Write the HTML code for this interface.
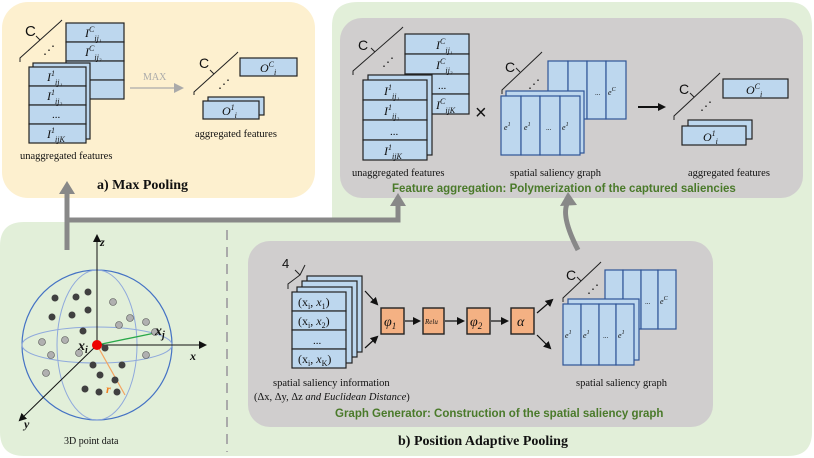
<!DOCTYPE html>
<html><head><meta charset="utf-8"><style>
body{margin:0;background:#fff}
svg{display:block}
text{font-family:"Liberation Serif",serif;fill:#111}
text.s{font-family:"Liberation Sans",sans-serif}
.it{font-style:italic}
.c{fill:#bdd7ee;stroke:#222;stroke-width:1.2}
.cb{fill:#bdd7ee;stroke:#2f5597;stroke-width:1.2}
.o{fill:#f4b183;stroke:#222;stroke-width:1.4}
.g{font-family:"Liberation Sans",sans-serif;font-weight:bold;fill:#4a7a2a;font-size:11.5px}
.br{fill:none;stroke:#222;stroke-width:1}
</style></head><body>
<svg width="814" height="458" viewBox="0 0 814 458">
<defs>
<marker id="ah" markerWidth="8" markerHeight="8" refX="6" refY="4" orient="auto" markerUnits="userSpaceOnUse"><path d="M0,0 L8,4 L0,8 z" fill="#111"/></marker>
<marker id="ag" markerWidth="10" markerHeight="10" refX="6" refY="5" orient="auto" markerUnits="userSpaceOnUse"><path d="M0,0 L10,5 L0,10 z" fill="#aaa"/></marker>
</defs>
<rect x="2" y="2" width="313" height="196" rx="26" fill="#fdf0cf"/>
<path d="M358,2 H788 Q812,2 812,26 V432 Q812,456 788,456 H24 Q0,456 0,432 V246 Q0,222 24,222 H332 V26 Q332,2 358,2 Z" fill="#e2efd9"/>
<rect x="340" y="18" width="463" height="180" rx="22" fill="#d0cece"/>
<rect x="248" y="241" width="465" height="186" rx="22" fill="#d0cece"/>
<line x1="227" y1="230" x2="227" y2="452" stroke="#aaa" stroke-width="2" stroke-dasharray="10,7"/>

<g stroke="#888" stroke-width="5" fill="none">
<path d="M67,250 V192"/><path d="M67,220 H398 V204"/>
<path d="M578,250 Q560,215 568,202"/>
</g>
<path d="M59,194 L67,181 L75,194 Z" fill="#888"/>
<path d="M390,206 L398,193 L406,206 Z" fill="#888"/>
<path d="M560,206 L568,192 L577,205 Z" fill="#888"/>

<!-- a) max pooling -->
<path class="br" d="M20,62 L20,58 L60,22 L62,20 M40,40 L36,36"/><text x="25" y="36" font-size="15" class="s">C</text>
<text x="43" y="54" font-size="12">⋰</text>
<g>
<rect class="c" x="66" y="23" width="58" height="19"/><rect class="c" x="66" y="42" width="58" height="19"/><rect class="c" x="66" y="61" width="58" height="19"/><rect class="c" x="66" y="80" width="58" height="19"/>
<text x="85" y="37" font-size="12" class="it">I<tspan font-size="8" dy="-5">C</tspan><tspan font-size="8" dy="9">ij₁</tspan></text>
<text x="85" y="56" font-size="12" class="it">I<tspan font-size="8" dy="-5">C</tspan><tspan font-size="8" dy="9">ij₂</tspan></text>
<rect class="c" x="33" y="63" width="57" height="76"/>
<rect class="c" x="29" y="67" width="57" height="19"/><rect class="c" x="29" y="86" width="57" height="19"/><rect class="c" x="29" y="105" width="57" height="19"/><rect class="c" x="29" y="124" width="57" height="19"/>
<text x="47" y="81" font-size="12" class="it">I<tspan font-size="8" dy="-5">1</tspan><tspan font-size="8" dy="9">ij₁</tspan></text>
<text x="47" y="100" font-size="12" class="it">I<tspan font-size="8" dy="-5">1</tspan><tspan font-size="8" dy="9">ij₂</tspan></text>
<text x="52" y="118" font-size="11">...</text>
<text x="47" y="138" font-size="12" class="it">I<tspan font-size="8" dy="-5">1</tspan><tspan font-size="8" dy="9">ijK</tspan></text>
</g>
<text x="20" y="159" font-size="10.5">unaggregated features</text>
<line x1="130" y1="88" x2="180" y2="88" stroke="#aaa" stroke-width="1.2" marker-end="url(#ag)"/>
<text x="143" y="80" font-size="10" style="fill:#aaa">MAX</text>
<path class="br" d="M194,95 L194,92 L236,54 L238,52 M214,74 L210,70"/><text x="199" y="68" font-size="14" class="s">C</text>
<text x="218" y="88" font-size="12">⋰</text>
<rect class="c" x="240" y="58" width="57" height="18"/><text x="260" y="72" font-size="12" class="it">O<tspan font-size="8" dy="-5">C</tspan><tspan font-size="8" dy="8">i</tspan></text>
<rect class="c" x="208" y="97" width="56" height="18"/><rect class="c" x="203" y="101" width="56" height="18"/>
<text x="222" y="115" font-size="12" class="it">O<tspan font-size="8" dy="-5">1</tspan><tspan font-size="8" dy="8">i</tspan></text>
<text x="195" y="137" font-size="10.5">aggregated features</text>
<text x="97" y="189" font-size="14" font-weight="bold">a) Max Pooling</text>

<!-- top gray -->
<path class="br" d="M353,75 L353,71 L401,29 L403,27 M375,52 L371,48"/><text x="358" y="50" font-size="14" class="s">C</text>
<text x="382" y="66" font-size="12">⋰</text>
<rect class="c" x="405" y="34" width="64" height="20"/><rect class="c" x="405" y="54" width="64" height="20"/><rect class="c" x="405" y="74" width="64" height="20"/><rect class="c" x="405" y="94" width="64" height="20"/>
<text x="436" y="49" font-size="12" class="it">I<tspan font-size="8" dy="-5">C</tspan><tspan font-size="8" dy="9">ij₁</tspan></text>
<text x="436" y="69" font-size="12" class="it">I<tspan font-size="8" dy="-5">C</tspan><tspan font-size="8" dy="9">ij₂</tspan></text>
<text x="438" y="89" font-size="11">...</text>
<text x="436" y="109" font-size="12" class="it">I<tspan font-size="8" dy="-5">C</tspan><tspan font-size="8" dy="9">ijK</tspan></text>
<rect class="c" x="368" y="75" width="64" height="80"/>
<rect class="c" x="363" y="80" width="64" height="20"/><rect class="c" x="363" y="100" width="64" height="20"/><rect class="c" x="363" y="120" width="64" height="20"/><rect class="c" x="363" y="140" width="64" height="20"/>
<text x="384" y="95" font-size="12" class="it">I<tspan font-size="8" dy="-5">1</tspan><tspan font-size="8" dy="9">ij₁</tspan></text>
<text x="384" y="115" font-size="12" class="it">I<tspan font-size="8" dy="-5">1</tspan><tspan font-size="8" dy="9">ij₂</tspan></text>
<text x="390" y="135" font-size="11">...</text>
<text x="384" y="155" font-size="12" class="it">I<tspan font-size="8" dy="-5">1</tspan><tspan font-size="8" dy="9">ijK</tspan></text>
<text x="352" y="176" font-size="10.5">unaggregated features</text>
<text x="475" y="119" font-size="20" class="s">×</text>
<path class="br" d="M502,94 L502,90 L540,54 L542,52 M520,72 L516,68"/><text x="505" y="72" font-size="14" class="s">C</text>
<text x="528" y="88" font-size="12">⋰</text>
<g>
<rect class="cb" x="548" y="61" width="20" height="58"/><rect class="cb" x="568" y="61" width="19" height="58"/><rect class="cb" x="587" y="61" width="19" height="58"/><rect class="cb" x="606" y="61" width="20" height="58"/>
<text x="595" y="95" font-size="7">...</text><text x="608" y="95" font-size="8" class="it">e<tspan font-size="6" dy="-4">C</tspan></text>
<rect class="cb" x="506" y="91" width="78" height="62"/>
<rect class="cb" x="501" y="96" width="20" height="59"/><rect class="cb" x="521" y="96" width="19" height="59"/><rect class="cb" x="540" y="96" width="20" height="59"/><rect class="cb" x="560" y="96" width="20" height="59"/>
<text x="504" y="130" font-size="8" class="it">e<tspan font-size="6" dy="-4">1</tspan></text><text x="524" y="130" font-size="8" class="it">e<tspan font-size="6" dy="-4">1</tspan></text><text x="546" y="130" font-size="7">...</text><text x="562" y="130" font-size="8" class="it">e<tspan font-size="6" dy="-4">1</tspan></text>
</g>
<text x="510" y="176" font-size="10.5">spatial  saliency graph</text>
<line x1="638" y1="107" x2="664" y2="107" stroke="#111" stroke-width="2" marker-end="url(#ah)"/>
<path class="br" d="M674,120 L674,116 L718,75 L720,73 M694,97 L690,93"/><text x="679" y="94" font-size="14" class="s">C</text>
<text x="700" y="110" font-size="12">⋰</text>
<rect class="c" x="723" y="79" width="65" height="19"/><text x="746" y="94" font-size="12" class="it">O<tspan font-size="8" dy="-5">C</tspan><tspan font-size="8" dy="8">i</tspan></text>
<rect class="c" x="688" y="120" width="64" height="19"/><rect class="c" x="682" y="126" width="64" height="19"/>
<text x="703" y="141" font-size="12" class="it">O<tspan font-size="8" dy="-5">1</tspan><tspan font-size="8" dy="8">i</tspan></text>
<text x="688" y="176" font-size="10.5">aggregated features</text>
<text x="392" y="192" class="g">Feature aggregation: Polymerization of the captured saliencies</text>

<!-- 3D point data -->
<g fill="none">
<circle cx="97" cy="345" r="75" stroke="#4472c4" stroke-width="1.2"/>
<ellipse cx="97" cy="345" rx="75" ry="18" stroke="#8fa9dc" stroke-width="1"/>
<ellipse cx="97" cy="345" rx="40" ry="75" stroke="#8fa9dc" stroke-width="1"/>
</g>
<g stroke="#111" stroke-width="1">
<line x1="97" y1="345" x2="97" y2="236" marker-end="url(#ah)"/>
<line x1="97" y1="345" x2="205" y2="345" marker-end="url(#ah)"/>
<line x1="97" y1="345" x2="20" y2="420" marker-end="url(#ah)"/>
</g>
<line x1="97" y1="345" x2="155" y2="333" stroke="#2aa84a" stroke-width="1.3"/>
<line x1="97" y1="345" x2="125" y2="395" stroke="#f4a460" stroke-width="1.2"/>
<g fill="#404040">
<circle cx="55" cy="298" r="3.5"/><circle cx="76" cy="297" r="3.5"/><circle cx="88" cy="292" r="3.5"/><circle cx="52" cy="317" r="3.5"/><circle cx="72" cy="315" r="3.5"/><circle cx="88" cy="310" r="3.5"/><circle cx="83" cy="331" r="3.5"/><circle cx="105" cy="348" r="3.5"/><circle cx="93" cy="365" r="3.5"/><circle cx="122" cy="365" r="3.5"/><circle cx="100" cy="375" r="3.5"/><circle cx="115" cy="380" r="3.5"/><circle cx="85" cy="389" r="3.5"/><circle cx="99" cy="392" r="3.5"/><circle cx="117" cy="392" r="3.5"/>
</g>
<g fill="#b0b0b0" stroke="#555" stroke-width="0.6">
<circle cx="113" cy="302" r="3.5"/><circle cx="130" cy="318" r="3.5"/><circle cx="119" cy="325" r="3.5"/><circle cx="146" cy="322" r="3.5"/><circle cx="155" cy="332" r="3.5"/><circle cx="42" cy="342" r="3.5"/><circle cx="65" cy="340" r="3.5"/><circle cx="51" cy="355" r="3.5"/><circle cx="79" cy="353" r="3.5"/><circle cx="146" cy="355" r="3.5"/><circle cx="46" cy="373" r="3.5"/>
</g>
<circle cx="97" cy="345" r="5" fill="#e00"/>
<text x="100" y="246" font-size="12" class="it" font-weight="bold">z</text>
<text x="190" y="360" font-size="12" class="it" font-weight="bold">x</text>
<text x="24" y="428" font-size="12" class="it" font-weight="bold">y</text>
<text x="155" y="335" font-size="14" class="it" font-weight="bold">x<tspan font-size="10" dy="3">j</tspan></text>
<text x="78" y="350" font-size="14" class="it" font-weight="bold">x<tspan font-size="10" dy="3">i</tspan></text>
<text x="106" y="393" font-size="12" class="it" font-weight="bold" style="fill:#f08020">r</text>
<text x="64" y="444" font-size="10">3D point data</text>

<!-- bottom gray -->
<path class="br" d="M288,289 L288,284 L300,275 L295,270 M300,275 L305,265"/><text x="282" y="268" font-size="13" class="s">4</text>
<rect class="c" x="307" y="276" width="55" height="76"/><rect class="c" x="302" y="281" width="55" height="76"/><rect class="c" x="297" y="287" width="55" height="76"/>
<rect class="c" x="292" y="292" width="54" height="19"/><rect class="c" x="292" y="311" width="54" height="19"/><rect class="c" x="292" y="330" width="54" height="19"/><rect class="c" x="292" y="349" width="54" height="19"/>
<text x="298" y="306" font-size="12">(x<tspan font-size="8" dy="3">i</tspan><tspan dy="-3">, </tspan><tspan class="it">x</tspan><tspan font-size="8" dy="3">1</tspan><tspan dy="-3">)</tspan></text>
<text x="298" y="325" font-size="12">(x<tspan font-size="8" dy="3">i</tspan><tspan dy="-3">, </tspan><tspan class="it">x</tspan><tspan font-size="8" dy="3">2</tspan><tspan dy="-3">)</tspan></text>
<text x="313" y="344" font-size="11">...</text>
<text x="298" y="363" font-size="12">(x<tspan font-size="8" dy="3">i</tspan><tspan dy="-3">, </tspan><tspan class="it">x</tspan><tspan font-size="8" dy="3">K</tspan><tspan dy="-3">)</tspan></text>
<text x="273" y="386" font-size="10.5">spatial  saliency information</text>
<text x="254" y="400" font-size="10.5">(Δx, Δy, Δz <tspan class="it">and Euclidean Distance</tspan>)</text>
<g stroke="#111" stroke-width="1.2">
<line x1="365" y1="291" x2="377" y2="304" marker-end="url(#ah)"/>
<line x1="365" y1="348" x2="377" y2="337" marker-end="url(#ah)"/>
<line x1="405" y1="321" x2="419" y2="321" marker-end="url(#ah)"/>
<line x1="445" y1="321" x2="463" y2="321" marker-end="url(#ah)"/>
<line x1="491" y1="321" x2="507" y2="321" marker-end="url(#ah)"/>
<line x1="537" y1="313" x2="552" y2="300" marker-end="url(#ah)"/>
<line x1="537" y1="335" x2="550" y2="348" marker-end="url(#ah)"/>
</g>
<rect class="o" x="381" y="308" width="23" height="26"/><text x="384" y="326" font-size="14" class="it">φ<tspan font-size="9" dy="3">1</tspan></text>
<rect class="o" x="423" y="308" width="21" height="26"/><text x="425" y="324" font-size="7" class="it">Relu</text>
<rect class="o" x="467" y="308" width="23" height="26"/><text x="470" y="326" font-size="14" class="it">φ<tspan font-size="9" dy="3">2</tspan></text>
<rect class="o" x="511" y="308" width="23" height="26"/><text x="517" y="326" font-size="14" class="it">α</text>
<path class="br" d="M563,302 L563,298 L599,264 L601,262 M581,281 L577,277"/><text x="566" y="280" font-size="14" class="s">C</text>
<text x="587" y="293" font-size="12">⋰</text>
<rect class="cb" x="605" y="270" width="18" height="59"/><rect class="cb" x="623" y="270" width="18" height="59"/><rect class="cb" x="641" y="270" width="17" height="59"/><rect class="cb" x="658" y="270" width="18" height="59"/>
<text x="645" y="304" font-size="7">...</text><text x="660" y="304" font-size="8" class="it">e<tspan font-size="6" dy="-4">C</tspan></text>
<rect class="cb" x="568" y="299" width="71" height="61"/>
<rect class="cb" x="563" y="304" width="18" height="61"/><rect class="cb" x="581" y="304" width="18" height="61"/><rect class="cb" x="599" y="304" width="17" height="61"/><rect class="cb" x="616" y="304" width="18" height="61"/>
<text x="565" y="338" font-size="8" class="it">e<tspan font-size="6" dy="-4">1</tspan></text><text x="583" y="338" font-size="8" class="it">e<tspan font-size="6" dy="-4">1</tspan></text><text x="603" y="338" font-size="7">...</text><text x="618" y="338" font-size="8" class="it">e<tspan font-size="6" dy="-4">1</tspan></text>
<text x="576" y="386" font-size="10.5">spatial  saliency graph</text>
<text x="335" y="417" class="g">Graph Generator: Construction of the spatial saliency graph</text>
<text x="398" y="445" font-size="14" font-weight="bold">b) Position  Adaptive Pooling</text>
</svg>
</body></html>
